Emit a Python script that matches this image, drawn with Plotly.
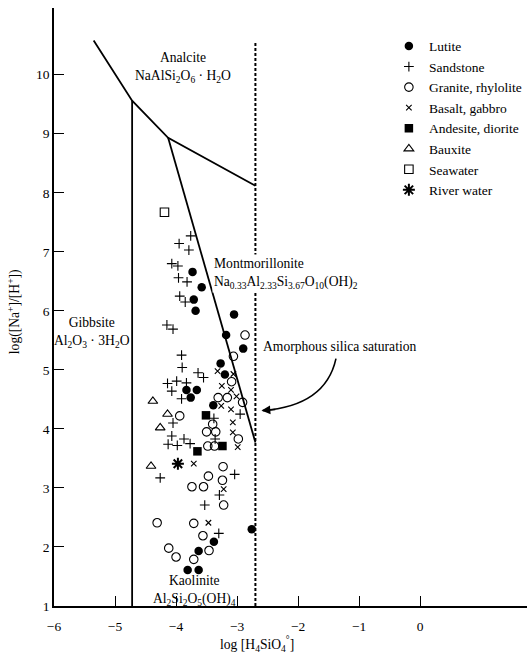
import plotly.graph_objects as go

# ---- data ----
lutite_x = [-3.73, -3.58, -3.71, -3.68, -3.05, -3.18, -2.90, -3.27, -3.20, -3.83, -3.66, -3.76,
            -3.39, -2.76, -3.38, -3.63, -3.81, -3.63]
lutite_y = [6.66, 6.40, 6.19, 6.00, 5.94, 5.59, 5.36, 5.11, 4.92, 4.66, 4.66, 4.53,
            4.40, 2.30, 2.09, 1.93, 1.61, 1.61]

sand_x = [-3.76, -3.95, -3.79, -4.07, -3.97, -3.96, -3.82, -3.94, -3.85, -4.15, -4.05, -3.91,
          -3.90, -3.64, -3.55, -4.14, -3.99, -3.83, -4.07, -3.91, -2.95, -3.38, -4.05, -4.07,
          -3.36, -3.87, -4.13, -3.98, -3.77, -4.26, -3.04, -3.29, -3.53, -3.30]
sand_y = [7.27, 7.14, 7.03, 6.80, 6.76, 6.56, 6.49, 6.25, 6.15, 5.76, 5.69, 5.25,
          5.04, 4.95, 4.87, 4.77, 4.81, 4.78, 4.64, 4.51, 4.25, 4.18, 4.10, 3.88,
          3.83, 3.83, 3.74, 3.72, 3.75, 3.17, 3.23, 2.88, 2.71, 2.23]

granite_x = [-2.87, -3.06, -3.09, -3.31, -3.16, -2.91, -3.94, -3.40, -3.50, -3.35, -2.98,
             -3.48, -3.37, -3.23, -3.47, -3.24, -3.74, -3.55, -3.22, -4.31, -3.71, -3.56,
             -4.12, -3.46, -4.00, -3.71]
granite_y = [5.59, 5.23, 4.80, 4.53, 4.53, 4.45, 4.22, 4.08, 3.95, 3.95, 3.83,
             3.71, 3.71, 3.36, 3.20, 3.13, 3.02, 3.02, 2.71, 2.41, 2.40, 2.19,
             1.98, 1.94, 1.83, 1.79]

basalt_x = [-3.32, -3.06, -3.25, -3.10, -3.01, -3.26, -3.10, -3.07, -3.07, -2.99, -3.71,
            -3.22, -3.47]
basalt_y = [4.98, 4.93, 4.73, 4.66, 4.55, 4.39, 4.33, 4.11, 3.94, 3.69, 3.41,
            2.98, 2.41]

andesite_x = [-3.51, -3.24, -3.65]
andesite_y = [4.23, 3.71, 3.62]

bauxite_x = [-4.38, -4.14, -4.26, -4.41]
bauxite_y = [4.47, 4.25, 4.02, 3.37]

seawater_x = [-4.19]
seawater_y = [7.67]

river_x = [-3.97]
river_y = [3.41]

# stability-field boundaries
analcite_bnd_x = [-5.35, -4.72, -4.13, -2.70]
analcite_bnd_y = [10.58, 9.56, 8.93, 8.12]
gibbsite_bnd_x = [-4.72, -4.72]
gibbsite_bnd_y = [1.0, 9.56]
kaol_mont_x = [-4.13, -2.70]
kaol_mont_y = [8.93, 3.77]
silica_x = [-2.70, -2.70]
silica_y = [1.0, 10.55]

x_ticks = [-6, -5, -4, -3, -2, -1, 0]
y_ticks = [1, 2, 3, 4, 5, 6, 7, 8, 9, 10]

FONT = "Liberation Serif, Times New Roman, serif"

fig = go.Figure()

line_style = dict(color="black", width=1.8)
fig.add_trace(go.Scatter(x=analcite_bnd_x, y=analcite_bnd_y, mode="lines", line=line_style,
                         showlegend=False, hoverinfo="skip"))
fig.add_trace(go.Scatter(x=gibbsite_bnd_x, y=gibbsite_bnd_y, mode="lines", line=line_style,
                         showlegend=False, hoverinfo="skip"))
fig.add_trace(go.Scatter(x=kaol_mont_x, y=kaol_mont_y, mode="lines", line=line_style,
                         showlegend=False, hoverinfo="skip"))
fig.add_trace(go.Scatter(x=silica_x, y=silica_y, mode="lines",
                         line=dict(color="black", width=2, dash="3px,2px"),
                         showlegend=False, hoverinfo="skip"))

series = [
    ("Lutite", lutite_x, lutite_y, dict(symbol="circle", size=8.5, color="black")),
    ("Sandstone", sand_x, sand_y, dict(symbol="cross-thin-open", size=7,
                                      line=dict(color="black", width=1.1))),
    ("Granite, rhylolite", granite_x, granite_y, dict(symbol="circle-open", size=8.5,
                                                     line=dict(color="black", width=1.1))),
    ("Basalt, gabbro", basalt_x, basalt_y, dict(symbol="x-thin-open", size=5.5,
                                               line=dict(color="black", width=1.1))),
    ("Andesite, diorite", andesite_x, andesite_y, dict(symbol="square", size=8.5, color="black")),
    ("Bauxite", bauxite_x, bauxite_y, dict(symbol="triangle-up-open", size=8.5,
                                         line=dict(color="black", width=1.1))),
    ("Seawater", seawater_x, seawater_y, dict(symbol="square-open", size=8.5,
                                            line=dict(color="black", width=1.1))),
    ("River water", river_x, river_y, dict(symbol="asterisk-open", size=10,
                                         line=dict(color="black", width=2))),
]
for name, xs, ys, mk in series:
    if "color" not in mk:
        mk["color"] = "black"
    fig.add_trace(go.Scatter(x=xs, y=ys, mode="markers", name=name, marker=mk))

ann_font = dict(family=FONT, size=13.6, color="black")
annotations = [
    dict(x=-3.885, y=10.12, text="Analcite<br>NaAlSi<sub>2</sub>O<sub>6</sub> · H<sub>2</sub>O",
         xanchor="center", align="center"),
    dict(x=-3.41, y=6.64,
         text="Montmorillonite<br>Na<sub>0.33</sub>Al<sub>2.33</sub>Si<sub>3.67</sub>O<sub>10</sub>(OH)<sub>2</sub>",
         xanchor="left", align="left", bgcolor="white"),
    dict(x=-5.38, y=5.63, text="Gibbsite<br>Al<sub>2</sub>O<sub>3</sub> · 3H<sub>2</sub>O",
         xanchor="center", align="center"),
    dict(x=-2.61, y=5.39, text="Amorphous silica saturation", xanchor="left", align="left"),
    dict(x=-3.70, y=1.27, text="Kaolinite<br>Al<sub>2</sub>Si<sub>2</sub>O<sub>5</sub>(OH)<sub>4</sub>",
         xanchor="center", align="center"),
]
anns = []
for a in annotations:
    a.update(xref="x", yref="y", showarrow=False, font=ann_font, yanchor="middle")
    anns.append(a)

# arrowhead for the curved pointer
anns.append(dict(x=-2.60, y=4.31, xref="x", yref="y", ax=-2.35, ay=4.33, axref="x", ayref="y",
                 text="", showarrow=True, arrowhead=2, arrowsize=1.1, arrowwidth=1.6,
                 arrowcolor="black"))
# axis titles
anns.append(dict(x=0.429, y=-0.065, xref="paper", yref="paper", showarrow=False,
                 text="log [H<sub>4</sub>SiO<sub>4</sub><sup>°</sup>]", font=ann_font,
                 xanchor="center", yanchor="middle"))
anns.append(dict(x=-0.0825, y=0.493, xref="paper", yref="paper", showarrow=False,
                 text="log([Na<sup>+</sup>]/[H<sup>+</sup>])", font=ann_font, textangle=-90,
                 xanchor="center", yanchor="middle"))

fig.update_layout(
    width=527, height=656,
    margin=dict(l=54, r=0, t=8, b=50),
    paper_bgcolor="white", plot_bgcolor="white",
    font=dict(family=FONT, size=13.5, color="black"),
    annotations=anns,
    shapes=[dict(type="path", xref="x", yref="y",
                 path="M -1.38,5.19 Q -1.55,4.39 -2.58,4.31",
                 line=dict(color="black", width=1.6))],
    legend=dict(x=0.708, y=0.962, xanchor="left", yanchor="top",
                font=dict(family=FONT, size=13.5, color="black"),
                bgcolor="rgba(0,0,0,0)", itemwidth=30),
    xaxis=dict(range=[-6, 1.75], tickvals=x_ticks, ticks="inside", ticklen=10, tickwidth=1.3,
               tickcolor="black", showline=True, linecolor="black", linewidth=1.5,
               showgrid=False, zeroline=False, tickfont=dict(family=FONT, size=13.5),
               ticklabelstandoff=7),
    yaxis=dict(range=[1, 11.13], tickvals=y_ticks, ticks="inside", ticklen=10, tickwidth=1.3,
               tickcolor="black", showline=True, linecolor="black", linewidth=1.5,
               showgrid=False, zeroline=False, tickfont=dict(family=FONT, size=13.5)),
)

fig.write_html("out.html", config={"displayModeBar": False},
               post_script="document.body.style.margin='0px';")
